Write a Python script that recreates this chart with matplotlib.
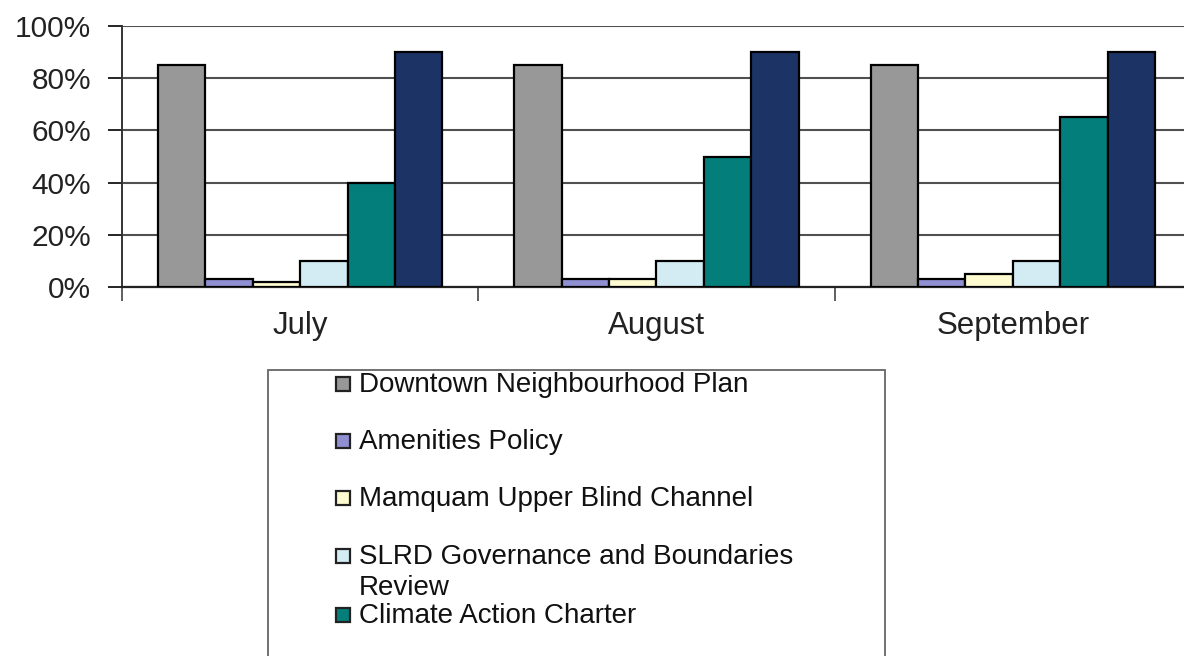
import matplotlib
matplotlib.use("Agg")
import matplotlib.pyplot as plt
from matplotlib.patches import Rectangle
import numpy as np

plt.rcParams['font.family'] = ['Liberation Sans', 'DejaVu Sans']

months = ["July", "August", "September"]
series = [
    "Downtown Neighbourhood Plan",
    "Amenities Policy",
    "Mamquam Upper Blind Channel",
    "SLRD Governance and Boundaries\nReview",
    "Climate Action Charter",
    None,
]
downtown = [85, 85, 85]
amenities = [3, 3, 3]
mamquam = [2, 3, 5]
slrd = [10, 10, 10]
climate = [40, 50, 65]
sixth = [90, 90, 90]
yticks = [0, 20, 40, 60, 80, 100]
ytick_labels = ["0%", "20%", "40%", "60%", "80%", "100%"]

values = [downtown, amenities, mamquam, slrd, climate, sixth]
colors = ["#989898", "#8f8fd2", "#fdfbcf", "#d3ecf4", "#047e7b", "#1c3366"]

W, H = 1184, 656
fig = plt.figure(figsize=(W / 100, H / 100), dpi=100)
ax = fig.add_axes([122 / W, 1 - 287 / H, (1191 - 122) / W, (287 - 26) / H])

x = np.arange(len(months))
bw = 0.133
for i, (vals, col) in enumerate(zip(values, colors)):
    ax.bar(x + (i - 2.5) * bw, vals, width=bw, color=col,
           edgecolor="black", linewidth=1.6, zorder=3)

ax.set_xlim(-0.5, len(months) - 0.5)
ax.set_ylim(0, 100)
ax.set_yticks(yticks)
ax.set_yticklabels(ytick_labels, fontsize=21.5, color="#222222")
ax.yaxis.grid(True, color="#505050", linewidth=1.5, zorder=0)
ax.tick_params(axis="y", length=10, width=1.2, pad=12, direction="out")

ax.set_xticks(x)
ax.set_xticklabels(months, fontsize=22.5, color="#222222")
ax.set_xticks(np.arange(len(months) + 1) - 0.5, minor=True)
ax.tick_params(axis="x", which="major", length=0, pad=17)
ax.tick_params(axis="x", which="minor", length=10, width=1.2, color="#444444")

for s in ["top", "right"]:
    ax.spines[s].set_visible(False)
ax.spines["left"].set_color("#333333")
ax.spines["left"].set_linewidth(1.4)
ax.spines["bottom"].set_color("#222222")
ax.spines["bottom"].set_linewidth(1.6)

def fx(px):
    return px / W

def fy(py):
    return 1 - py / H

# legend box, running past the lower edge
fig.patches.append(Rectangle((fx(268), fy(700)), fx(885) - fx(268), fy(370) - fy(700),
                             transform=fig.transFigure, fill=False,
                             edgecolor="#666666", linewidth=1.3))
row_y = [384, 441, 498, 556, 615, 672]
for name, col, yy in zip(series, colors, row_y):
    if name is None:
        continue
    fig.patches.append(Rectangle((fx(336), fy(yy + 7)), fx(14), 14 / H,
                                 transform=fig.transFigure, facecolor=col,
                                 edgecolor="#222222", linewidth=1.6))
    lines = name.split("\n")
    for k, line in enumerate(lines):
        fig.text(fx(359), fy(yy + 1 + 31 * k), line, fontsize=20, color="#111111",
                 va="center", ha="left")

fig.savefig("out.png", dpi=100, facecolor="white")
